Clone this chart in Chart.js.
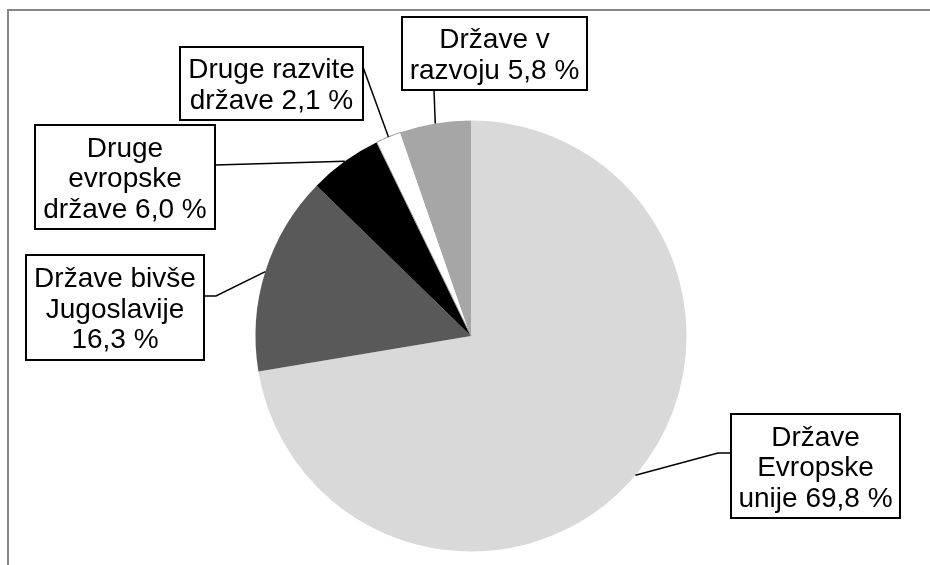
<!DOCTYPE html>
<html>
<head>
<meta charset="utf-8">
<script src="https://cdn.jsdelivr.net/npm/chart.js@4/dist/chart.umd.min.js"></script>
<style>
  html, body { margin: 0; padding: 0; background: #fff; }
  #wrap { position: relative; width: 930px; height: 565px; }
</style>
</head>
<body>
<div id="wrap"><canvas id="pie"></canvas></div>
<script>
// podatki
const categories = ['Države Evropske unije', 'Države bivše Jugoslavije', 'Druge evropske države', 'Druge razvite države', 'Države v razvoju'];
// deleži, kot so izpisani na oznakah (%)
const shares = [69.8, 16.3, 6.0, 2.1, 5.8];
// velikosti izsekov, kot so narisane na sliki
const sliceValues = [72.3, 14.9, 5.5, 1.9, 5.3];
const sliceColors = ['#d9d9d9', '#595959', '#000000', '#ffffff', '#a6a6a6'];
// besedilo oznak po vrsticah, {v} = vrednost
const labelLines = [
  ['Države', 'Evropske', 'unije {v} %'],
  ['Države bivše', 'Jugoslavije', '{v} %'],
  ['Druge', 'evropske', 'države {v} %'],
  ['Druge razvite', 'države {v} %'],
  ['Države v', 'razvoju {v} %']
];

// postavitev oznak: okvir, pripenjalna točka, koleno
const labelLayout = [
  { box: [731, 414, 169, 104], attach: [731, 453], elbow: [718, 453] },
  { box: [26, 255, 178, 105], attach: [204, 296], elbow: [216, 296] },
  { box: [35, 125, 180, 104], attach: [215, 165], elbow: null },
  { box: [180, 47, 183, 73], attach: [363, 67], elbow: null },
  { box: [402, 17, 185, 73], attach: [434, 90], elbow: null }
];

const fmt = v => v.toFixed(1).replace('.', ',');

// okvir (zgornji in levi rob)
const framePlugin = {
  id: 'frame',
  beforeDraw(chart) {
    const ctx = chart.ctx;
    ctx.save();
    ctx.strokeStyle = '#878787';
    ctx.lineWidth = 2;
    ctx.beginPath();
    ctx.moveTo(8, 565);
    ctx.lineTo(8, 10);
    ctx.lineTo(930, 10);
    ctx.stroke();
    ctx.restore();
  }
};

// oznake s črtami
const calloutPlugin = {
  id: 'callouts',
  afterDatasetsDraw(chart) {
    const ctx = chart.ctx;
    const arcs = chart.getDatasetMeta(0).data;
    ctx.save();
    arcs.forEach((arc, i) => {
      const lay = labelLayout[i];
      const { x, y, startAngle, endAngle, outerRadius } = arc.getProps(['x', 'y', 'startAngle', 'endAngle', 'outerRadius'], true);
      const a = (startAngle + endAngle) / 2;
      const px = x + Math.cos(a) * outerRadius;
      const py = y + Math.sin(a) * outerRadius;

      // črta
      ctx.strokeStyle = '#000';
      ctx.lineWidth = 1.5;
      ctx.beginPath();
      ctx.moveTo(px, py);
      if (lay.elbow) ctx.lineTo(lay.elbow[0], lay.elbow[1]);
      ctx.lineTo(lay.attach[0], lay.attach[1]);
      ctx.stroke();

      // okvir
      const [bx, by, bw, bh] = lay.box;
      ctx.fillStyle = '#fff';
      ctx.fillRect(bx, by, bw, bh);
      ctx.lineWidth = 2;
      ctx.strokeRect(bx, by, bw, bh);

      // besedilo
      const lines = labelLines[i].map(s => s.replace('{v}', fmt(shares[i])));
      const lh = 30.5;
      const cy = by + bh / 2;
      ctx.fillStyle = '#000';
      ctx.font = '28px "Liberation Sans", Arial, sans-serif';
      ctx.textAlign = 'center';
      ctx.textBaseline = 'alphabetic';
      lines.forEach((t, k) => {
        const lc = cy + (k - (lines.length - 1) / 2) * lh;
        ctx.fillText(t, bx + bw / 2, lc + 10);
      });
    });
    ctx.restore();
  }
};

new Chart(document.getElementById('pie'), {
  type: 'pie',
  data: {
    labels: categories,
    datasets: [{
      data: sliceValues,
      backgroundColor: sliceColors,
      borderColor: ['#d9d9d9', '#595959', '#000000', '#9a9a9a', '#a6a6a6'],
      borderWidth: [0, 0, 0, 1, 0]
    }]
  },
  options: {
    responsive: true,
    maintainAspectRatio: false,
    animation: false,
    layout: { padding: { left: 255, right: 243, top: 120, bottom: 13 } },
    plugins: {
      legend: { display: false },
      tooltip: { enabled: false }
    }
  },
  plugins: [framePlugin, calloutPlugin]
});
</script>
</body>
</html>
